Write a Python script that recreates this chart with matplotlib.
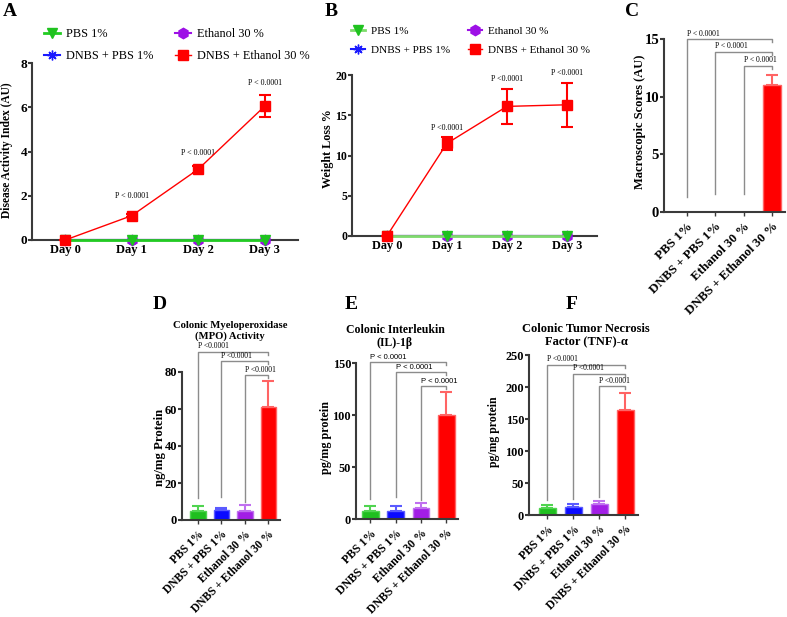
import matplotlib
matplotlib.use("Agg")
import matplotlib.pyplot as plt
import numpy as np

plt.rcParams['font.family'] = 'Liberation Serif'

# ---- data ----
days = ['Day 0', 'Day 1', 'Day 2', 'Day 3']
groups = ['PBS 1%', 'DNBS + PBS 1%', 'Ethanol 30 %', 'DNBS + Ethanol 30 %']

# A: disease activity index
dai_pbs = [0, 0, 0, 0]
dai_dnbs_pbs = [0, 0, 0, 0]
dai_eth = [0, 0, 0, 0]
dai_dnbs_eth = [0, 1.1, 3.2, 6.05]
dai_dnbs_eth_err = [0, 0.08, 0.15, 0.5]
dai_p_y = [1.8, 3.75, 6.9]

# B: weight loss
wl_pbs = [0, 0, 0, 0]
wl_dnbs_pbs = [0, 0, 0, 0]
wl_eth = [0, 0, 0, 0]
wl_dnbs_eth = [0, 11.5, 16.1, 16.3]
wl_dnbs_eth_err = [0, 0.85, 2.15, 2.7]
wl_p_y = [12.9, 19.0, 19.7]

# C-F: bar panels
macro = [0, 0, 0, 11.0]
macro_err = [0, 0, 0, 0.9]
macro_brk = [15.0, 13.9, 12.7]
macro_brk_low = [1.3, 1.6, 1.6]

mpo = [4.7, 5.5, 5.0, 61.0]
mpo_err = [3.0, 1.0, 3.0, 14.0]
mpo_brk = [91, 86, 78.4]
mpo_brk_low = [12, 12.6, 10]

il1b = [8.0, 8.0, 10.9, 100.4]
il1b_err = [4.8, 4.5, 4.5, 22.0]
il1b_brk = [151, 141.4, 128]
il1b_brk_low = [19, 21, 18]

tnf = [10.5, 13.0, 17.2, 164.0]
tnf_err = [5.1, 3.7, 5.2, 27.0]
tnf_brk = [235, 221, 201.6]
tnf_brk_low = [23, 24.5, 27.6]

W, H = 787, 617
fig = plt.figure(figsize=(7.87, 6.17), dpi=100)


def px_axes(l, r, t, b):
    return fig.add_axes([l / W, 1 - b / H, (r - l) / W, (b - t) / H])


def style(ax, ysize):
    for s in ['top', 'right']:
        ax.spines[s].set_visible(False)
    for s in ['left', 'bottom']:
        ax.spines[s].set_linewidth(1.5)
        ax.spines[s].set_color('#3a3a3a')
    ax.tick_params(axis='y', length=3, width=1.5, color='#3a3a3a', labelsize=ysize, pad=0.5)
    for lab in ax.get_yticklabels():
        lab.set_fontweight('bold')


def ftext(x, y, s, **kw):
    fig.text(x / W, 1 - y / H, s, **kw)


green = '#1fc21f'
blue = '#1a1aff'
purple = '#9d10e6'
red = '#ff0000'


def line_panel(ax, pbs, dnbs_pbs, eth, dnbs_eth, err, ymax, yticks, ptxt, p_y, pbs_line,
               leg_xy, leg_size, colsp, ysize, xsize):
    x = np.arange(len(days))
    h_dp, = ax.plot(x, dnbs_pbs, color=blue, marker=(8, 2, 0), ms=7, lw=1.5, clip_on=False, zorder=3)
    h_e, = ax.plot(x, eth, color=purple, marker='h', ms=7.5, lw=1.5, clip_on=False, zorder=4)
    h_p, = ax.plot(x, pbs, color=pbs_line, marker='v', ms=7.5, mfc=green, mec=green,
                   lw=2, clip_on=False, zorder=5)
    eb = ax.errorbar(x, dnbs_eth, yerr=err, fmt='none', ecolor=red, elinewidth=1.5,
                     capsize=4, capthick=1.5, zorder=6)
    for art in eb.lines[1] + eb.lines[2]:
        art.set_clip_on(False)
    h_de, = ax.plot(x, dnbs_eth, color=red, marker='s', ms=7, lw=1, clip_on=False, zorder=7)
    for xi, yi in zip(x[1:], p_y):
        ax.text(xi, yi, ptxt, ha='center', va='bottom', fontsize=5.8)
    ax.set_ylim(0, ymax)
    ax.set_yticks(yticks)
    ax.set_xticks(x)
    ax.set_xticklabels(days, fontsize=xsize, fontweight='bold')
    ax.tick_params(axis='x', length=0, pad=3)
    style(ax, ysize)
    ax.legend([h_p, h_dp, h_e, h_de], groups, ncol=2, loc='upper left',
              bbox_to_anchor=(leg_xy[0] / W, 1 - leg_xy[1] / H), bbox_transform=fig.transFigure,
              frameon=False, prop={'family': 'Liberation Serif', 'size': leg_size},
              handlelength=1.3, handletextpad=0.5, columnspacing=colsp, labelspacing=0.85,
              borderpad=0, borderaxespad=0)


bar_colors = ['#1fbf1f', '#0a0aff', '#a21ee6', '#ff0000']
bar_edges = ['#50d450', '#5a5aff', '#c070f0', '#ff6464']


def bar_panel(ax, vals, errs, ymax, yticks, brk, brk_low, ptxt, pfam, xlim, ysize, xsize):
    x = np.arange(len(groups))
    ax.bar(x, vals, width=0.66, color=bar_colors, edgecolor=bar_edges, linewidth=1, zorder=2)
    for xi, v, e, c in zip(x, vals, errs, bar_edges):
        if e > 0:
            ax.errorbar(xi, v, yerr=[[0], [e]], fmt='none', ecolor=c, elinewidth=1.5,
                        capsize=4, capthick=1.5, zorder=1)
    drop = ymax * 0.02
    for li, h, low in zip([0, 1, 2], brk, brk_low):
        ax.plot([li, li, 3, 3], [low, h, h, h - drop], color='#8c8c8c', lw=1, clip_on=False)
        ax.text(li, h + ymax * 0.008, ptxt, ha='left', va='bottom', fontsize=5.5, family=pfam)
    ax.set_xlim(*xlim)
    ax.set_ylim(0, ymax)
    ax.set_yticks(yticks)
    ax.set_xticks(x)
    ax.set_xticklabels(groups, rotation=45, ha='right', rotation_mode='anchor',
                       fontsize=xsize, fontweight='bold')
    ax.tick_params(axis='x', length=3, width=1, color='#3a3a3a', pad=3)
    style(ax, ysize)


# ---- A ----
axA = px_axes(32, 298, 63, 240)
line_panel(axA, dai_pbs, dai_dnbs_pbs, dai_eth, dai_dnbs_eth, dai_dnbs_eth_err,
           8, [0, 2, 4, 6, 8], 'P < 0.0001', dai_p_y, '#22cc22', (44, 28), 8.8, 1.8, 9.5, 9)
axA.set_xlim(-0.5, 3.5)
ftext(7, 150, 'Disease Activity Index (AU)', rotation=90, ha='center', va='center',
      fontsize=8.3, fontweight='bold')

# ---- B ----
axB = px_axes(352, 597, 75, 236)
line_panel(axB, wl_pbs, wl_dnbs_pbs, wl_eth, wl_dnbs_eth, wl_dnbs_eth_err,
           20, [0, 5, 10, 15, 20], 'P <0.0001', wl_p_y, '#7edc6c', (351, 26), 8.0, 1.6, 8.6, 8.8)
axB.set_xlim(-0.58, 3.5)
ftext(328, 149, 'Weight Loss %', rotation=90, ha='center', va='center',
      fontsize=8.7, fontweight='bold')

# ---- C ----
axC = px_axes(664, 785, 39, 212)
bar_panel(axC, macro, macro_err, 15, [0, 5, 10, 15], macro_brk, macro_brk_low,
          'P < 0.0001', 'Liberation Serif', (-0.81, 3.46), 10.5, 9.4)
ftext(640, 122, 'Macroscopic Scores (AU)', rotation=90, ha='center', va='center',
      fontsize=9, fontweight='bold')

# ---- D ----
axD = px_axes(182, 280, 372, 520)
bar_panel(axD, mpo, mpo_err, 80, [0, 20, 40, 60, 80], mpo_brk, mpo_brk_low,
          'P <0.0001', 'Liberation Serif', (-0.68, 3.5), 9, 8.3)
ftext(160, 447, 'ng/mg Protein', rotation=90, ha='center', va='center',
      fontsize=9.2, fontweight='bold')
ftext(230, 331, 'Colonic Myeloperoxidase\n(MPO) Activity', ha='center', va='center',
      fontsize=7.7, fontweight='bold', linespacing=1.15)

# ---- E ----
axE = px_axes(356, 458, 363, 519)
bar_panel(axE, il1b, il1b_err, 150, [0, 50, 100, 150], il1b_brk, il1b_brk_low,
          'P < 0.0001', 'Liberation Sans', (-0.56, 3.46), 8.8, 8.5)
ftext(326, 437, 'pg/mg protein', rotation=90, ha='center', va='center',
      fontsize=8.7, fontweight='bold')
ftext(395, 336.5, 'Colonic Interleukin\n(IL)-1\u03b2', ha='center', va='center',
      fontsize=8.5, fontweight='bold', linespacing=1.15)

# ---- F ----
axF = px_axes(529, 638, 355, 515)
bar_panel(axF, tnf, tnf_err, 250, [0, 50, 100, 150, 200, 250], tnf_brk, tnf_brk_low,
          'P <0.0001', 'Liberation Serif', (-0.7, 3.48), 8.8, 8.5)
ftext(494, 432, 'pg/mg protein', rotation=90, ha='center', va='center',
      fontsize=8.5, fontweight='bold')
ftext(586, 336, 'Colonic Tumor Necrosis\nFactor (TNF)-\u03b1', ha='center', va='center',
      fontsize=9, fontweight='bold', linespacing=1.15)

# panel letters
for lab, x, y in [('A', 3, 3), ('B', 325, 3), ('C', 625, 3),
                  ('D', 153, 296), ('E', 345, 296), ('F', 566, 296)]:
    ftext(x, y, lab, ha='left', va='top', fontsize=14, fontweight='bold')

fig.savefig('out.png', dpi=100)
